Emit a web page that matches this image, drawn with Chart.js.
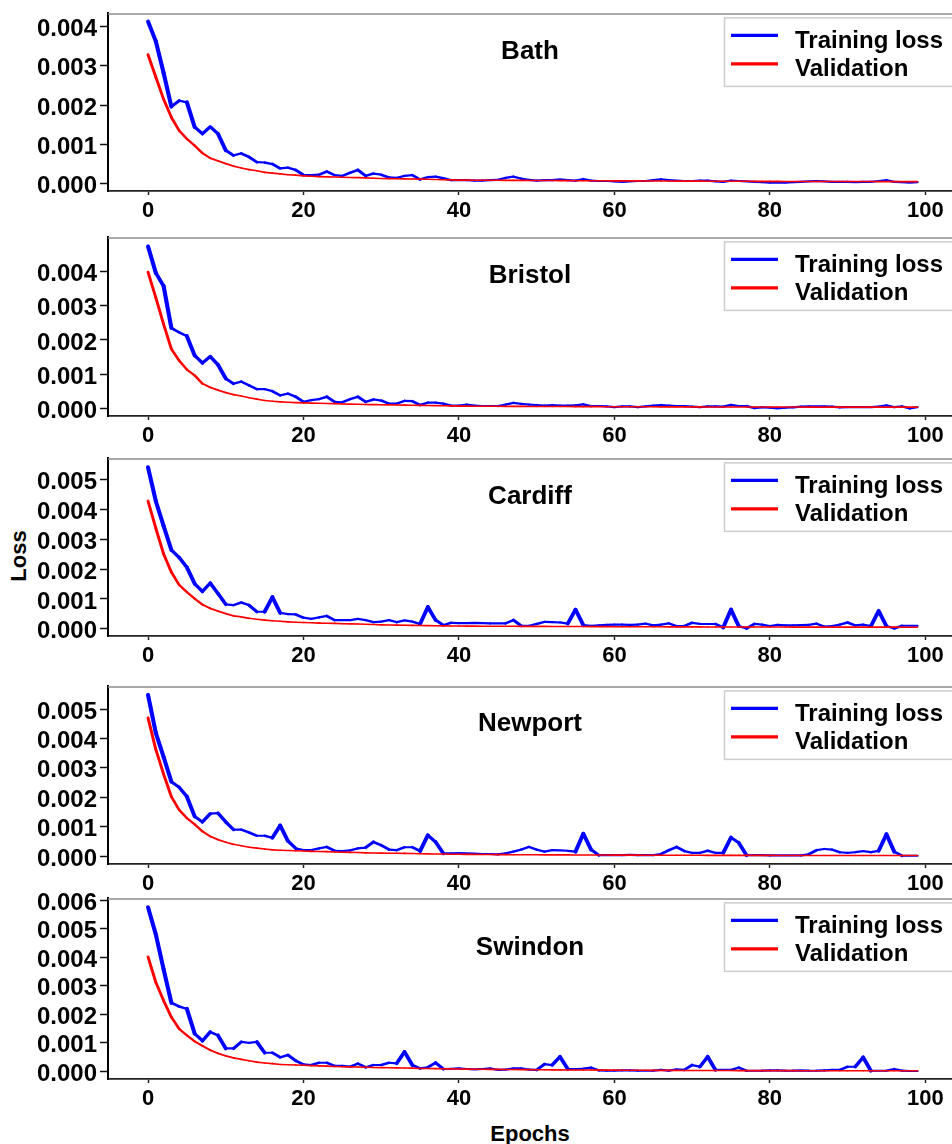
<!DOCTYPE html>
<html><head><meta charset="utf-8">
<script src="https://cdn.jsdelivr.net/npm/chart.js@4.4.1/dist/chart.umd.min.js"></script>
<style>
html,body{margin:0;padding:0;background:#fff;}
body{width:952px;height:1144px;overflow:hidden;position:relative;font-family:"Liberation Sans",Arial,sans-serif;color:#000;}
.panel{position:absolute;left:0;}
#ylab{position:absolute;left:19px;top:556px;transform:translate(-50%,-50%) rotate(-90deg);font-weight:bold;font-size:22px;white-space:nowrap;}
#xlab{position:absolute;left:530px;top:1121px;transform:translateX(-50%);font-weight:bold;font-size:22px;white-space:nowrap;}
</style></head><body>
<div id="ylab">Loss</div>
<div id="xlab">Epochs</div>
<script>
const epochs = [0,1,2,3,4,5,6,7,8,9,10,11,12,13,14,15,16,17,18,19,20,21,22,23,24,25,26,27,28,29,30,31,32,33,34,35,36,37,38,39,40,41,42,43,44,45,46,47,48,49,50,51,52,53,54,55,56,57,58,59,60,61,62,63,64,65,66,67,68,69,70,71,72,73,74,75,76,77,78,79,80,81,82,83,84,85,86,87,88,89,90,91,92,93,94,95,96,97,98,99];
const cities = ['Bath','Bristol','Cardiff','Newport','Swindon'];
const seriesLabels = ['Training loss','Validation'];
const xTicks = [0,20,40,60,80,100];
const yTicks4 = [0,0.001,0.002,0.003,0.004];
const yTicks5 = [0,0.001,0.002,0.003,0.004,0.005];
const yTicks6 = [0,0.001,0.002,0.003,0.004,0.005,0.006];

const bathTrain = [0.00412,0.00362,0.00282,0.00196,0.00211,0.00207,0.00144,0.00127,0.00145,0.00127,
0.00085,0.00072,0.00077,0.00068,0.00055,0.00054,0.00050,0.00039,0.00041,0.00035,
0.00022,0.00022,0.00023,0.00031,0.00022,0.00020,0.00028,0.00035,0.00020,0.00026,
0.00023,0.00016,0.00015,0.00020,0.00022,0.00011,0.00017,0.00018,0.00014,0.00009,
0.00009,0.00009,0.00008,0.00008,0.00009,0.00010,0.00015,0.00018,0.00013,0.00010,
0.00008,0.00009,0.00009,0.00011,0.00009,0.00008,0.00012,0.00008,0.00007,0.00007,
0.00006,0.00005,0.00006,0.00007,0.00007,0.00009,0.00011,0.00009,0.00008,0.00007,
0.00007,0.00008,0.00008,0.00006,0.00005,0.00008,0.00007,0.00006,0.00005,0.00004,
0.00003,0.00003,0.00003,0.00004,0.00005,0.00006,0.00007,0.00006,0.00005,0.00005,
0.00005,0.00004,0.00005,0.00005,0.00007,0.00009,0.00005,0.00004,0.00003,0.00004];
const bathVal = [0.00328,0.00271,0.00215,0.00169,0.00135,0.00114,0.00097,0.00078,0.00065,0.00058,
0.00051,0.00045,0.00040,0.00036,0.00033,0.00029,0.00027,0.00025,0.00023,0.00022,
0.000200,0.000190,0.000180,0.000175,0.000170,0.000165,0.000160,0.000155,0.000150,0.000140,
0.000135,0.000130,0.000128,0.000125,0.000120,0.000118,0.000113,0.000108,0.000103,0.000098,
0.000093,0.000092,0.000091,0.000090,0.000089,0.000088,0.000087,0.000086,0.000085,0.000084,
0.000083,0.000082,0.000081,0.000080,0.000079,0.000078,0.000077,0.000076,0.000076,0.000075,
0.000074,0.000073,0.000072,0.000072,0.000071,0.000070,0.000069,0.000069,0.000068,0.000067,
0.000066,0.000066,0.000065,0.000064,0.000064,0.000063,0.000062,0.000062,0.000061,0.000061,
0.000060,0.000060,0.000059,0.000059,0.000058,0.000058,0.000058,0.000057,0.000057,0.000057,
0.000056,0.000056,0.000056,0.000056,0.000055,0.000055,0.000055,0.000055,0.000055,0.000055];

const bristolTrain = [0.00472,0.00395,0.00357,0.00235,0.00222,0.00211,0.00155,0.00133,0.00152,0.00128,
0.00088,0.00073,0.00079,0.00068,0.00057,0.00057,0.00051,0.00039,0.00044,0.00035,
0.00020,0.00025,0.00028,0.00035,0.00020,0.00019,0.00028,0.00035,0.00020,0.00027,
0.00024,0.00015,0.00015,0.00023,0.00022,0.00011,0.00018,0.00018,0.00015,0.00009,
0.00009,0.00012,0.00009,0.00008,0.00008,0.00008,0.00012,0.00017,0.00014,0.00012,
0.00011,0.00009,0.00011,0.00009,0.00009,0.00010,0.00013,0.00008,0.00008,0.00007,
0.00005,0.00007,0.00007,0.00005,0.00007,0.00009,0.00011,0.00009,0.00008,0.00008,
0.00006,0.00005,0.00007,0.00007,0.00006,0.00011,0.00008,0.00008,0.00002,0.00004,
0.00003,0.00001,0.00003,0.00004,0.00006,0.00007,0.00007,0.00007,0.00006,0.00004,
0.00005,0.00005,0.00005,0.00005,0.00006,0.00010,0.00005,0.00007,0.00001,0.00005];
const bristolVal = [0.00397,0.00323,0.00246,0.00174,0.00140,0.00114,0.00097,0.00073,0.00062,0.00054,
0.00047,0.00041,0.00037,0.00032,0.00028,0.00024,0.00022,0.00020,0.00019,0.00018,
0.000170,0.000165,0.000160,0.000155,0.000150,0.000140,0.000135,0.000130,0.000125,0.000120,
0.000115,0.000112,0.000109,0.000106,0.000103,0.000100,0.000096,0.000092,0.000088,0.000084,
0.000077,0.000076,0.000075,0.000074,0.000073,0.000072,0.000071,0.000070,0.000069,0.000068,
0.000067,0.000066,0.000065,0.000065,0.000064,0.000063,0.000062,0.000062,0.000061,0.000060,
0.000060,0.000059,0.000058,0.000058,0.000057,0.000057,0.000056,0.000056,0.000055,0.000055,
0.000054,0.000054,0.000053,0.000053,0.000053,0.000052,0.000052,0.000052,0.000051,0.000051,
0.000051,0.000050,0.000050,0.000050,0.000050,0.000049,0.000049,0.000049,0.000049,0.000048,
0.000048,0.000048,0.000048,0.000048,0.000047,0.000047,0.000047,0.000047,0.000047,0.000047];

const cardiffTrain = [0.00541,0.00428,0.00345,0.00264,0.00239,0.00206,0.00151,0.00125,0.00153,0.00118,
0.00082,0.00079,0.00088,0.00079,0.00057,0.00057,0.00106,0.00053,0.00049,0.00048,
0.00037,0.00033,0.00038,0.00043,0.00029,0.00029,0.00029,0.00033,0.00029,0.00022,
0.00024,0.00029,0.00022,0.00028,0.00024,0.00016,0.00073,0.00029,0.00012,0.00020,
0.00019,0.00019,0.00020,0.00019,0.00018,0.00018,0.00018,0.00029,0.00010,0.00010,
0.00016,0.00023,0.00022,0.00021,0.00017,0.00064,0.00012,0.00010,0.00011,0.00013,
0.00014,0.00014,0.00013,0.00014,0.00017,0.00011,0.00014,0.00018,0.00009,0.00009,
0.00020,0.00016,0.00016,0.00016,0.00004,0.00064,0.00009,0.00001,0.00016,0.00014,
0.00009,0.00013,0.00011,0.00011,0.00012,0.00013,0.00017,0.00007,0.00009,0.00014,
0.00021,0.00011,0.00014,0.00009,0.00060,0.00009,0.00001,0.00010,0.00010,0.00010];
const cardiffVal = [0.00428,0.00337,0.00251,0.00190,0.00147,0.00123,0.00101,0.00081,0.00068,0.00059,
0.00051,0.00043,0.00040,0.00035,0.00032,0.00029,0.00027,0.00025,0.00023,0.00022,
0.000210,0.000200,0.000190,0.000185,0.000180,0.000170,0.000165,0.000160,0.000150,0.000140,
0.000130,0.000125,0.000120,0.000117,0.000113,0.000110,0.000105,0.000100,0.000095,0.000092,
0.000090,0.000088,0.000087,0.000086,0.000085,0.000084,0.000083,0.000082,0.000081,0.000080,
0.000079,0.000078,0.000077,0.000076,0.000075,0.000074,0.000073,0.000072,0.000071,0.000070,
0.000069,0.000068,0.000068,0.000067,0.000066,0.000066,0.000065,0.000064,0.000064,0.000063,
0.000062,0.000062,0.000061,0.000061,0.000060,0.000060,0.000059,0.000059,0.000058,0.000058,
0.000057,0.000057,0.000057,0.000056,0.000056,0.000056,0.000055,0.000055,0.000055,0.000054,
0.000054,0.000054,0.000054,0.000053,0.000053,0.000053,0.000053,0.000052,0.000052,0.000052];

const newportTrain = [0.00548,0.00419,0.00337,0.00253,0.00234,0.00202,0.00135,0.00116,0.00144,0.00146,
0.00116,0.00090,0.00090,0.00080,0.00069,0.00069,0.00062,0.00104,0.00051,0.00026,
0.00020,0.00020,0.00026,0.00031,0.00018,0.00017,0.00019,0.00026,0.00029,0.00048,
0.00037,0.00022,0.00020,0.00030,0.00030,0.00017,0.00071,0.00048,0.00009,0.00009,
0.00010,0.00009,0.00008,0.00007,0.00007,0.00006,0.00009,0.00015,0.00022,0.00031,
0.00022,0.00015,0.00020,0.00019,0.00018,0.00015,0.00076,0.00022,0.00003,0.00003,
0.00003,0.00003,0.00004,0.00003,0.00003,0.00003,0.00007,0.00020,0.00031,0.00017,
0.00011,0.00011,0.00018,0.00011,0.00011,0.00063,0.00045,0.00003,0.00003,0.00003,
0.00002,0.00002,0.00002,0.00002,0.00002,0.00006,0.00020,0.00024,0.00022,0.00013,
0.00011,0.00013,0.00017,0.00013,0.00018,0.00074,0.00015,0.00001,0.00001,0.00001];
const newportVal = [0.00470,0.00363,0.00279,0.00202,0.00157,0.00129,0.00108,0.00084,0.00067,0.00056,
0.00047,0.00040,0.00035,0.00030,0.00027,0.00024,0.00021,0.00020,0.00019,0.00018,
0.000170,0.000160,0.000155,0.000150,0.000140,0.000130,0.000125,0.000120,0.000110,0.000105,
0.000100,0.000097,0.000094,0.000090,0.000085,0.000080,0.000076,0.000072,0.000068,0.000064,
0.000060,0.000058,0.000056,0.000054,0.000052,0.000050,0.000048,0.000046,0.000045,0.000044,
0.000043,0.000042,0.000041,0.000040,0.000039,0.000038,0.000037,0.000036,0.000035,0.000034,
0.000033,0.000032,0.000031,0.000031,0.000030,0.000029,0.000029,0.000028,0.000027,0.000027,
0.000026,0.000026,0.000025,0.000025,0.000024,0.000024,0.000023,0.000023,0.000022,0.000022,
0.000022,0.000021,0.000021,0.000021,0.000020,0.000020,0.000020,0.000020,0.000019,0.000019,
0.000019,0.000019,0.000018,0.000018,0.000018,0.000018,0.000018,0.000017,0.000017,0.000017];

const swindonTrain = [0.00575,0.00480,0.00358,0.00240,0.00227,0.00219,0.00132,0.00107,0.00138,0.00126,
0.00080,0.00080,0.00103,0.00100,0.00103,0.00065,0.00065,0.00049,0.00057,0.00037,
0.00024,0.00022,0.00030,0.00030,0.00019,0.00019,0.00016,0.00027,0.00014,0.00022,
0.00022,0.00030,0.00028,0.00068,0.00022,0.00010,0.00014,0.00030,0.00008,0.00009,
0.00010,0.00008,0.00007,0.00008,0.00010,0.00005,0.00006,0.00010,0.00010,0.00006,
0.00005,0.00025,0.00022,0.00051,0.00008,0.00008,0.00009,0.00013,0.00003,0.00002,
0.00002,0.00003,0.00003,0.00002,0.00002,0.00002,0.00005,0.00002,0.00007,0.00005,
0.00022,0.00016,0.00051,0.00005,0.00005,0.00005,0.00013,0.00002,0.00002,0.00002,
0.00003,0.00003,0.00002,0.00002,0.00003,0.00002,0.00002,0.00003,0.00005,0.00005,
0.00016,0.00016,0.00049,0.00002,0.00002,0.00002,0.00008,0.00002,0.00001,0.00001];
const swindonVal = [0.00401,0.00312,0.00248,0.00190,0.00149,0.00126,0.00105,0.00089,0.00074,0.00063,
0.00054,0.00047,0.00042,0.00037,0.00032,0.00029,0.00027,0.00024,0.00023,0.00022,
0.000210,0.000200,0.000190,0.000180,0.000170,0.000160,0.000155,0.000150,0.000140,0.000135,
0.000130,0.000125,0.000120,0.000115,0.000110,0.000100,0.000097,0.000094,0.000090,0.000085,
0.000080,0.000077,0.000074,0.000071,0.000068,0.000066,0.000063,0.000061,0.000059,0.000057,
0.000055,0.000053,0.000051,0.000050,0.000048,0.000046,0.000045,0.000043,0.000042,0.000041,
0.000040,0.000038,0.000037,0.000036,0.000035,0.000034,0.000033,0.000032,0.000031,0.000030,
0.000030,0.000029,0.000028,0.000027,0.000027,0.000026,0.000025,0.000025,0.000024,0.000024,
0.000023,0.000023,0.000022,0.000022,0.000021,0.000021,0.000021,0.000020,0.000020,0.000020,
0.000019,0.000019,0.000019,0.000018,0.000018,0.000018,0.000018,0.000017,0.000017,0.000017];

const trainSeries = [bathTrain, bristolTrain, cardiffTrain, newportTrain, swindonTrain];
const valSeries = [bathVal, bristolVal, cardiffVal, newportVal, swindonVal];

// Layout (pixels) and axis limits per panel
const panels = [
  {top:12,  bottom:191,  ymin:-0.000184, ymax:0.004328, ticks:yTicks4, titleDy:45.5},
  {top:236, bottom:416,  ymin:-0.00021,  ymax:0.00498,  ticks:yTicks4, titleDy:46},
  {top:457, bottom:636,  ymin:-0.000243, ymax:0.00571,  ticks:yTicks5, titleDy:45.5},
  {top:685, bottom:864,  ymin:-0.00027,  ymax:0.00577,  ticks:yTicks5, titleDy:45},
  {top:897, bottom:1079, ymin:-0.00027,  ymax:0.00606,  ticks:yTicks6, titleDy:57}
];

const FONT = '"Liberation Sans", Arial, Helvetica, sans-serif';
Chart.defaults.font.family = FONT;
Chart.defaults.color = '#000';

const STRETCH = 1.9;
function segWidth(base) {
  return c => {
    const dx = Math.abs(c.p1.x - c.p0.x) || 1e-6;
    const m = Math.abs(c.p1.y - c.p0.y) / dx;
    return base * Math.sqrt(1 + STRETCH * STRETCH * m * m) / Math.sqrt(1 + m * m);
  };
}

const panelDeco = {
  id: 'panelDeco',
  afterDraw(chart, args, opts) {
    const ctx = chart.ctx, a = chart.chartArea;
    ctx.save();
    ctx.strokeStyle = '#8c8c8c'; ctx.lineWidth = 1.5;
    ctx.beginPath(); ctx.moveTo(a.left, a.top + 0.5); ctx.lineTo(a.right, a.top + 0.5); ctx.stroke();
    ctx.fillStyle = '#000';
    ctx.font = 'bold 26px ' + FONT;
    ctx.textAlign = 'center'; ctx.textBaseline = 'alphabetic';
    ctx.fillText(opts.title, 530, a.top + opts.titleDy);
    const bx = 724.5, by = a.top + 4.5, bw = 300, bh = 68.5;
    ctx.fillStyle = '#fff'; ctx.fillRect(bx, by, bw, bh);
    ctx.strokeStyle = '#cdcdcd'; ctx.lineWidth = 1.5; ctx.strokeRect(bx, by, bw, bh);
    chart.data.datasets.forEach((ds, i) => {
      const ly = a.top + (i === 0 ? 22 : 50.5);
      ctx.strokeStyle = ds.borderColor; ctx.lineWidth = 3.2; ctx.lineCap = 'butt';
      ctx.beginPath(); ctx.moveTo(731, ly); ctx.lineTo(778, ly); ctx.stroke();
      ctx.fillStyle = '#000'; ctx.font = 'bold 24px ' + FONT; ctx.textAlign = 'left';
      ctx.fillText(ds.label, 795, ly + 12.5);
    });
    ctx.restore();
  }
};

const W = 956, PADT = 16, XAX = 40;
panels.forEach((p, k) => {
  const H = p.bottom - p.top + PADT + XAX;
  const div = document.createElement('div');
  div.className = 'panel';
  div.style.top = (p.top - PADT) + 'px';
  div.style.width = W + 'px'; div.style.height = H + 'px';
  const c = document.createElement('canvas');
  c.width = W; c.height = H; c.style.width = W + 'px'; c.style.height = H + 'px';
  div.appendChild(c); document.body.appendChild(div);

  const train = trainSeries[k].map((v, i) => ({x: epochs[i], y: v}));
  const val = valSeries[k].map((v, i) => ({x: epochs[i], y: v}));

  new Chart(c, {
    type: 'line',
    data: {
      datasets: [
        {label: seriesLabels[0], data: train, borderColor: '#0000ff', backgroundColor: '#0000ff',
         borderWidth: 2.2, pointRadius: 0, tension: 0, order: 1,
         borderCapStyle: 'round', borderJoinStyle: 'round', segment: {borderWidth: segWidth(2.2)}},
        {label: seriesLabels[1], data: val, borderColor: '#ff0000', backgroundColor: '#ff0000',
         borderWidth: 1.6, pointRadius: 0, tension: 0, order: 0,
         borderCapStyle: 'round', borderJoinStyle: 'round', segment: {borderWidth: segWidth(1.6)}}
      ]
    },
    options: {
      responsive: false, animation: false, devicePixelRatio: 1,
      layout: {padding: {top: PADT, left: 0, right: 0, bottom: 0}},
      plugins: {legend: {display: false}, tooltip: {enabled: false}, title: {display: false},
        panelDeco: {title: cities[k], titleDy: p.titleDy}},
      scales: {
        x: {
          type: 'linear', min: -5.15, max: 103.95,
          afterBuildTicks: ax => { ax.ticks = xTicks.map(v => ({value: v})); },
          afterFit: ax => { ax.height = XAX; },
          ticks: {font: {size: 22, weight: 'bold'}, color: '#000', padding: 3, maxRotation: 0, autoSkip: false},
          grid: {drawOnChartArea: false, drawTicks: true, tickLength: 4, tickWidth: 1.5, tickColor: '#222'},
          border: {display: true, color: '#222', width: 1.8}
        },
        y: {
          min: p.ymin, max: p.ymax,
          afterBuildTicks: ax => { ax.ticks = p.ticks.map(v => ({value: v})); },
          afterFit: ax => { ax.width = 108; },
          ticks: {font: {size: 24, weight: 'bold'}, color: '#000', padding: 3, labelOffset: 3,
                  callback: v => Number(v).toFixed(3), autoSkip: false},
          grid: {drawOnChartArea: false, drawTicks: true, tickLength: 8, tickWidth: 1.5, tickColor: '#111'},
          border: {display: true, color: '#000', width: 2}
        }
      }
    },
    plugins: [panelDeco]
  });
});
</script>
</body></html>
